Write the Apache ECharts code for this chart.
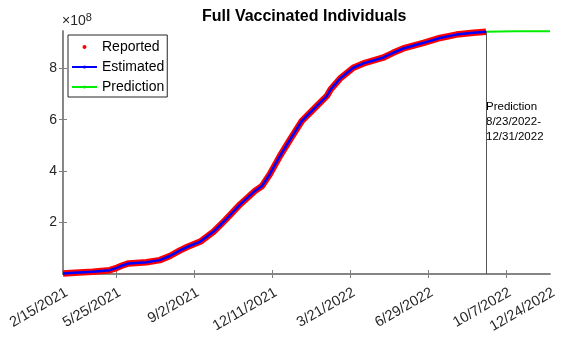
<!DOCTYPE html>
<html>
<head>
<meta charset="utf-8">
<script src="https://cdn.jsdelivr.net/npm/echarts@6/dist/echarts.min.js"></script>
<style>
  html, body { margin: 0; padding: 0; background: #fff; }
  #chart { width: 568px; height: 339px; }
</style>
</head>
<body>
<div id="chart"></div>
<script>
  // x = days from the left edge of the axis, y in units of 1e8 people
  var days = [0, 15, 38, 60, 69, 76, 84, 107, 124, 137, 150, 159, 176, 193, 208, 227, 246, 255, 265, 278,
    291, 306, 325, 338, 343, 355, 372, 385, 410, 423, 436, 462, 483, 504, 526, 542];
  var reported = [0.02, 0.05, 0.09, 0.15, 0.24, 0.33, 0.41, 0.46, 0.54, 0.70, 0.92, 1.05, 1.26, 1.65, 2.10, 2.71,
    3.23, 3.42, 3.88, 4.59, 5.23, 5.95, 6.53, 6.92, 7.18, 7.60, 8.02, 8.19, 8.41, 8.60, 8.77, 8.99, 9.18, 9.31, 9.38, 9.42];
  var estimated = [0.02, 0.05, 0.09, 0.15, 0.24, 0.33, 0.41, 0.46, 0.54, 0.70, 0.92, 1.05, 1.26, 1.65, 2.10, 2.71,
    3.23, 3.42, 3.88, 4.59, 5.23, 5.95, 6.53, 6.92, 7.18, 7.60, 8.02, 8.19, 8.41, 8.60, 8.77, 8.99, 9.18, 9.31, 9.38, 9.42];
  var predDays = [542, 560, 580, 600, 624];
  var prediction = [9.42, 9.43, 9.44, 9.44, 9.44];
  var predStart = 542;

  var tickDays = [0, 68, 168, 268, 368, 468, 568, 624];
  var tickLabels = ['2/15/2021', '5/25/2021', '9/2/2021', '12/11/2021', '3/21/2022', '6/29/2022', '10/7/2022', '12/24/2022'];
  var innerTicks = [68, 168, 268, 368, 468, 568];
  var yTicks = [2, 4, 6, 8];

  var font = 'Liberation Sans, Arial, sans-serif';
  var axisColor = '#7f7f7f';
  var textColor = '#262626';

  function pairs(xs, ys) {
    return xs.map(function (x, i) { return [x, ys[i]]; });
  }

  var chart = echarts.init(document.getElementById('chart'));

  var boxAxis = {
    axisLine: { show: true, lineStyle: { color: axisColor, width: 1.5 } },
    splitLine: { show: false }
  };

  chart.setOption({
    animation: false,
    textStyle: { fontFamily: font },
    title: {
      text: 'Full Vaccinated Individuals',
      left: 197,
      top: 4,
      textStyle: { fontSize: 16, fontWeight: 'bold', color: '#000', fontFamily: font }
    },
    graphic: [
      {
        type: 'text',
        left: 62,
        top: 12,
        style: {
          text: '{a|×10}{b|8}',
          rich: {
            a: { fontSize: 14, fill: textColor, fontFamily: font },
            b: { fontSize: 11, fill: textColor, fontFamily: font, verticalAlign: 'top', padding: [0, 0, 8, 0] }
          }
        }
      },
      {
        type: 'text',
        left: 486,
        top: 99,
        style: {
          text: 'Prediction\n8/23/2022-\n12/31/2022',
          fontSize: 11.5,
          lineHeight: 15,
          fill: '#000',
          fontFamily: font
        }
      }
    ],
    legend: {
      orient: 'vertical',
      left: 68,
      top: 35,
      padding: [5, 3, 3, 3],
      itemGap: 6,
      itemWidth: 25,
      itemHeight: 4,
      backgroundColor: '#fff',
      borderColor: '#262626',
      borderWidth: 1,
      textStyle: { fontSize: 14, color: '#000', fontFamily: font },
      data: [
        { name: 'Reported', icon: 'circle' },
        { name: 'Estimated' },
        { name: 'Prediction' }
      ]
    },
    grid: { left: 63, right: 18, top: 31, bottom: 65 },
    xAxis: [
      Object.assign({}, boxAxis, {
        type: 'value',
        min: 0,
        max: 624,
        axisTick: { show: true, inside: true, length: 4, customValues: innerTicks, lineStyle: { color: axisColor } },
        axisLabel: {
          customValues: tickDays,
          rotate: 30,
          margin: 11,
          verticalAlign: 'top',
          fontSize: 14.5,
          color: textColor,
          formatter: function (v) {
            var i = tickDays.indexOf(Math.round(v));
            return i >= 0 ? tickLabels[i] : '';
          }
        }
      }),
      Object.assign({}, boxAxis, {
        type: 'value',
        position: 'top',
        min: 0,
        max: 624,
        axisTick: { show: true, inside: true, length: 4, customValues: innerTicks, lineStyle: { color: axisColor } },
        axisLabel: { show: false }
      })
    ],
    yAxis: [
      Object.assign({}, boxAxis, {
        type: 'value',
        min: 0,
        max: 9.45,
        axisTick: { show: true, inside: true, length: 4, customValues: yTicks, lineStyle: { color: axisColor } },
        axisLabel: { customValues: yTicks, fontSize: 14, color: textColor, margin: 6 }
      }),
      Object.assign({}, boxAxis, {
        type: 'value',
        position: 'right',
        min: 0,
        max: 9.45,
        axisTick: { show: true, inside: true, length: 4, customValues: yTicks, lineStyle: { color: axisColor } },
        axisLabel: { show: false }
      })
    ],
    series: [
      {
        name: 'Reported',
        type: 'line',
        data: pairs(days, reported),
        symbol: 'none',
        color: '#ff0000',
        lineStyle: { color: '#ff0000', width: 6.5 },
        z: 2
      },
      {
        name: 'Estimated',
        type: 'line',
        data: pairs(days, estimated),
        symbol: 'none',
        color: '#0000ff',
        lineStyle: { color: '#0000ff', width: 2.5 },
        z: 3
      },
      {
        name: 'Prediction',
        type: 'line',
        data: pairs(predDays, prediction),
        symbol: 'none',
        color: '#00ee00',
        lineStyle: { color: '#00ee00', width: 2 },
        z: 3,
        markLine: {
          silent: true,
          symbol: 'none',
          label: { show: false },
          lineStyle: { color: '#555', width: 1, type: 'solid' },
          data: [{ xAxis: predStart }]
        }
      }
    ]
  });
</script>
</body>
</html>
